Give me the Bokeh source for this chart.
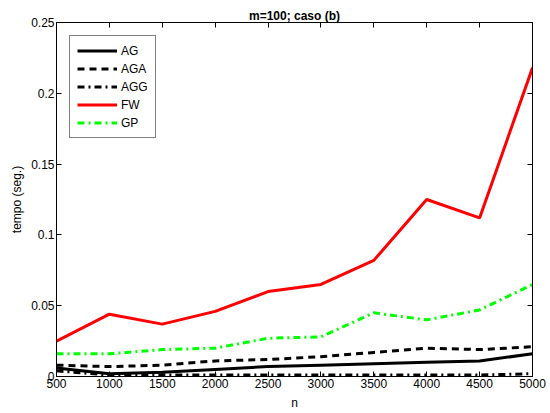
from bokeh.plotting import figure
from bokeh.models import LinearAxis, Legend, LegendItem, FixedTicker, Range1d
from bokeh.embed import file_html
from bokeh.resources import INLINE

n = [500, 1000, 1500, 2000, 2500, 3000, 3500, 4000, 4500, 5000]
ag = [0.006, 0.002, 0.003, 0.005, 0.007, 0.008, 0.009, 0.010, 0.011, 0.016]
aga = [0.008, 0.007, 0.008, 0.011, 0.012, 0.014, 0.017, 0.020, 0.019, 0.021]
agg = [0.004, 0.001, 0.001, 0.001, 0.001, 0.001, 0.001, 0.001, 0.001, 0.002]
fw = [0.025, 0.044, 0.037, 0.046, 0.060, 0.065, 0.082, 0.125, 0.112, 0.218]
gp = [0.016, 0.016, 0.019, 0.020, 0.027, 0.028, 0.045, 0.040, 0.047, 0.065]

x_ticks = n
y_ticks = [0, 0.05, 0.1, 0.15, 0.2, 0.25]
y_tick_labels = ["0", "0.05", "0.1", "0.15", "0.2", "0.25"]

FONT = "Liberation Sans"

p = figure(width=550, height=413, output_backend="svg", toolbar_location=None,
           x_range=Range1d(500, 5000), y_range=Range1d(0, 0.25),
           min_border_left=56, min_border_right=18, min_border_top=22,
           min_border_bottom=37, background_fill_color="white",
           border_fill_color="white")
p.grid.visible = False
p.outline_line_color = "black"
p.outline_line_width = 1

p.title.text = "m=100; caso (b)"
p.title.align = "center"
p.title.text_font = FONT
p.title.text_font_size = "12px"
p.title.text_font_style = "bold"
p.title.text_color = "black"
p.title.standoff = 0

p.xaxis.axis_label = "n"
p.yaxis.axis_label = "tempo (seg.)"
p.xaxis.ticker = FixedTicker(ticks=x_ticks)
p.yaxis.ticker = FixedTicker(ticks=y_ticks)
for ax in (p.xaxis[0], p.yaxis[0]):
    ax.major_tick_in = 5
    ax.major_tick_out = 0
    ax.minor_tick_line_color = None
    ax.major_label_text_font = FONT
    ax.major_label_text_font_size = "12px"
    ax.major_label_text_color = "black"
    ax.axis_label_text_font = FONT
    ax.axis_label_text_font_size = "12px"
    ax.axis_label_text_font_style = "normal"
    ax.axis_label_text_color = "black"
    ax.major_label_standoff = 2
p.xaxis.axis_label_standoff = 5
p.yaxis.axis_label_standoff = 4

p.yaxis.major_label_overrides = dict(zip(y_ticks, y_tick_labels))

# mirrored tick marks on the top and right edges, without labels
right = LinearAxis(ticker=FixedTicker(ticks=y_ticks), major_tick_in=5, major_tick_out=0,
                   minor_tick_line_color=None, major_label_standoff=0,
                   major_label_overrides={t: "" for t in y_ticks})
top = LinearAxis(ticker=FixedTicker(ticks=x_ticks), major_tick_in=5, major_tick_out=0,
                 minor_tick_line_color=None, major_label_standoff=0,
                 major_label_overrides={t: "" for t in x_ticks})
p.add_layout(right, "right")
p.add_layout(top, "above")

r_ag = p.line(n, ag, line_color="black", line_width=3)
r_aga = p.line(n, aga, line_color="black", line_width=3, line_dash="7 5")
r_agg = p.line(n, agg, line_color="black", line_width=3, line_dash="7 4 2 4")
r_fw = p.line(n, fw, line_color="#ff0000", line_width=3)
r_gp = p.line(n, gp, line_color="#00ff00", line_width=3, line_dash="7 4 2 4")

legend = Legend(items=[
    LegendItem(label="AG", renderers=[r_ag]),
    LegendItem(label="AGA", renderers=[r_aga]),
    LegendItem(label="AGG", renderers=[r_agg]),
    LegendItem(label="FW", renderers=[r_fw]),
    LegendItem(label="GP", renderers=[r_gp]),
], location="top_left")
legend.label_text_font = FONT
legend.label_text_font_size = "12px"
legend.label_text_color = "black"
legend.glyph_width = 40
legend.glyph_height = 15
legend.label_height = 15
legend.spacing = 3
legend.padding = 7
legend.margin = 13
legend.label_standoff = 4
legend.border_line_color = "black"
legend.border_line_width = 1
legend.background_fill_alpha = 1
p.add_layout(legend)

open("out.html", "w").write(file_html(p, INLINE))
